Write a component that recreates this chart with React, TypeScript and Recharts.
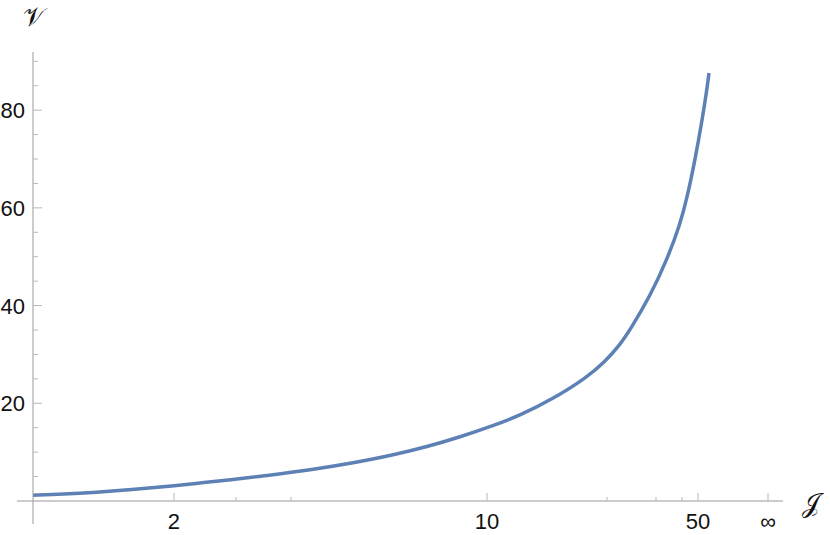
import React from 'react';
import { LineChart, Line, XAxis, YAxis, ReferenceLine } from 'recharts';

// position along the compressed J axis (0 = left end, 1 = ∞) and the value V
const axisPos = [
  0, 0.0408, 0.0871, 0.132, 0.1918, 0.2313, 0.2776, 0.3224, 0.3769, 0.4449,
  0.4898, 0.5361, 0.581, 0.6259, 0.6626, 0.7075, 0.7537, 0.7782, 0.7986,
  0.8122, 0.8395, 0.8626, 0.8803, 0.8898, 0.9007, 0.9102, 0.917, 0.9197,
];
const vValues = [
  1.2, 1.37, 1.78, 2.3, 3.13, 3.74, 4.5, 5.3, 6.34, 8.04,
  9.41, 11.1, 13.1, 15.4, 17.5, 20.9, 25.3, 28.5, 32.0,
  35.0, 41.9, 49.4, 56.6, 62.0, 69.8, 77.8, 84.4, 87.6,
];

const xMajorTicks = [0.1918, 0.6177, 0.9048, 1.0];
const xMajorLabels = ['2', '10', '50', '∞'];
const xMinorTicks = [0.2762, 0.351, 0.781, 0.8476, 0.883];

const yMajorTicks = [20, 40, 60, 80];
const yMinorTicks = [5, 10, 15, 25, 30, 35, 45, 50, 55, 65, 70, 75, 85, 90];

const data = axisPos.map((u, i) => ({ u, v: vValues[i] }));

const AXIS = '#9a9a9a';
const TICK = '#b8b8b8';
const FONT = '"Liberation Sans", Arial, sans-serif';
const SCRIPT = '"DejaVu Serif", "DejaVu Sans", serif';

const XTick = (props: any) => {
  const { x, y, payload } = props;
  const idx = xMajorTicks.indexOf(payload.value);
  const major = idx >= 0;
  return (
    <g>
      <line x1={x} y1={y} x2={x} y2={y - (major ? 8 : 4)} stroke={TICK} strokeWidth={1} />
      {major && (
        <text x={x} y={y + 28} textAnchor="middle" fontSize={22} fontFamily={FONT} fill="#111">
          {xMajorLabels[idx]}
        </text>
      )}
    </g>
  );
};

const YTick = (props: any) => {
  const { x, y, payload } = props;
  const major = yMajorTicks.includes(payload.value);
  return (
    <g>
      <line x1={x} y1={y} x2={x + (major ? 9 : 5)} y2={y} stroke={TICK} strokeWidth={1} />
      {major && (
        <text x={x - 8} y={y + 8} textAnchor="end" fontSize={22} fontFamily={FONT} fill="#111">
          {payload.value}
        </text>
      )}
    </g>
  );
};

const App: React.FC = () => {
  return (
    <div style={{ position: 'absolute', left: 0, top: 0, width: 830, height: 535 }}>
      <LineChart
        width={830}
        height={535}
        data={data}
        margin={{ top: 52, right: 47, left: 0, bottom: 0 }}
      >
        <XAxis
          dataKey="u"
          type="number"
          domain={[0, 1.0204]}
          ticks={[...xMajorTicks, ...xMinorTicks]}
          tick={<XTick />}
          tickSize={0}
          tickMargin={0}
          tickLine={false}
          axisLine={{ stroke: AXIS }}
          height={34}
          allowDataOverflow
          interval={0}
        />
        <YAxis
          dataKey="v"
          type="number"
          domain={[0, 91.9]}
          ticks={[...yMajorTicks, ...yMinorTicks]}
          tick={<YTick />}
          tickSize={0}
          tickMargin={0}
          tickLine={false}
          axisLine={{ stroke: AXIS }}
          width={33}
          allowDataOverflow
          interval={0}
        />
        <ReferenceLine
          segment={[{ x: -0.0218, y: 0 }, { x: 0, y: 0 }]}
          stroke={AXIS}
          ifOverflow="visible"
        />
        <ReferenceLine
          segment={[{ x: 0, y: -4.7 }, { x: 0, y: 0 }]}
          stroke={AXIS}
          ifOverflow="visible"
        />
        <Line
          type="basis"
          dataKey="v"
          stroke="#5E81B5"
          strokeWidth={3.5}
          dot={false}
          isAnimationActive={false}
        />
      </LineChart>
      <div
        style={{
          position: 'absolute', left: 23, top: 2, fontSize: 26, lineHeight: '30px',
          fontFamily: SCRIPT, color: '#111',
        }}
      >
        𝒱
      </div>
      <div
        style={{
          position: 'absolute', left: 802, top: 488, fontSize: 26, lineHeight: '30px',
          fontFamily: SCRIPT, color: '#111',
        }}
      >
        𝒥
      </div>
    </div>
  );
};

export default App;
